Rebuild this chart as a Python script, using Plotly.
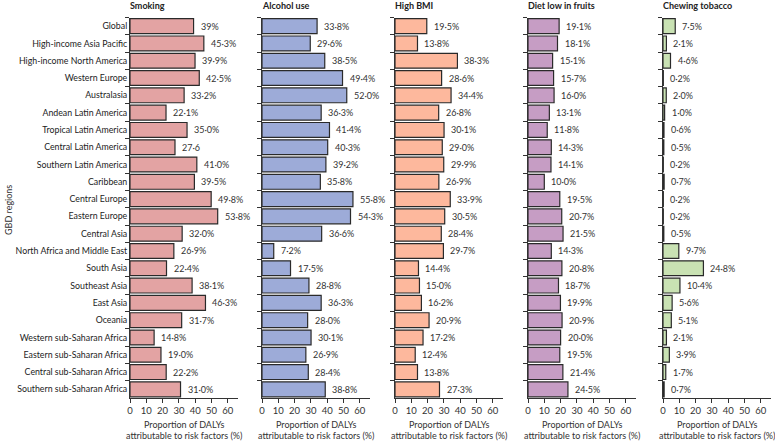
import plotly.graph_objects as go

regions = ["Global", "High-income Asia Pacific", "High-income North America", "Western Europe",
           "Australasia", "Andean Latin America", "Tropical Latin America", "Central Latin America",
           "Southern Latin America", "Caribbean", "Central Europe", "Eastern Europe", "Central Asia",
           "North Africa and Middle East", "South Asia", "Southeast Asia", "East Asia", "Oceania",
           "Western sub-Saharan Africa", "Eastern sub-Saharan Africa", "Central sub-Saharan Africa",
           "Southern sub-Saharan Africa"]

smoking = [39.0, 45.3, 39.9, 42.5, 33.2, 22.1, 35.0, 27.6, 41.0, 39.5, 49.8, 53.8, 32.0, 26.9,
           22.4, 38.1, 46.3, 31.7, 14.8, 19.0, 22.2, 31.0]
alcohol = [33.8, 29.6, 38.5, 49.4, 52.0, 36.3, 41.4, 40.3, 39.2, 35.8, 55.8, 54.3, 36.6, 7.2,
           17.5, 28.8, 36.3, 28.0, 30.1, 26.9, 28.4, 38.8]
high_bmi = [19.5, 13.8, 38.3, 28.6, 34.4, 26.8, 30.1, 29.0, 29.9, 26.9, 33.9, 30.5, 28.4, 29.7,
            14.4, 15.0, 16.2, 20.9, 17.2, 12.4, 13.8, 27.3]
low_fruit = [19.1, 18.1, 15.1, 15.7, 16.0, 13.1, 11.8, 14.3, 14.1, 10.0, 19.5, 20.7, 21.5, 14.3,
             20.8, 18.7, 19.9, 20.9, 20.0, 19.5, 21.4, 24.5]
chewing = [7.5, 2.1, 4.6, 0.2, 2.0, 1.0, 0.6, 0.5, 0.2, 0.7, 0.2, 0.2, 0.5, 9.7,
           24.8, 10.4, 5.6, 5.1, 2.1, 3.9, 1.7, 0.7]

titles = ["Smoking", "Alcohol use", "High BMI", "Diet low in fruits", "Chewing tobacco"]
colors = ["#E3A3A3", "#9DABD8", "#FDB89D", "#C69DC4", "#C9E2B3"]
series = [smoking, alcohol, high_bmi, low_fruit, chewing]
tick_vals = [0, 10, 20, 30, 40, 50, 60]
xtitle_lines = ["Proportion of DALYs", "attributable to risk factors (%)"]


def fmt(v):
    return f"{v:.1f}%".replace(".", "\u00b7")


labels = [[fmt(v) for v in s] for s in series]
labels[0][0] = "39%"
labels[0][7] = "27\u00b76"

W, H = 775, 442
x0_px = [130, 262, 395, 528, 663]
px_per_unit = 1.63
xmax = 66
FONT = "Lato"
y_top_px, y_bot_px = 17.5, 398


def px_x(p):
    return p / W


def px_y(p):
    return 1 - p / H


fig = go.Figure()
for i, (s, c, t) in enumerate(zip(series, colors, titles)):
    ax = "" if i == 0 else str(i + 1)
    fig.add_trace(go.Bar(
        x=s, y=regions, orientation="h",
        marker=dict(color=c, line=dict(color="#2a2a2a", width=1.2)),
        xaxis="x" + ax, yaxis="y" + ax, showlegend=False, hoverinfo="x+y",
    ))
    d0 = px_x(x0_px[i])
    d1 = px_x(x0_px[i] + xmax * px_per_unit)
    fig.layout["xaxis" + ax] = dict(
        domain=[d0, d1], range=[0, xmax], anchor="y" + ax, automargin=False,
        tickvals=tick_vals, ticks="outside", ticklen=4, tickcolor="#333",
        showline=True, linecolor="#333", linewidth=1, showgrid=False, zeroline=False,
        tickfont=dict(family=FONT, size=9.5, color="#333"),
    )
    fig.layout["yaxis" + ax] = dict(
        domain=[px_y(y_bot_px), px_y(y_top_px)], anchor="x" + ax, automargin=False,
        autorange="reversed", type="category",
        tickson="boundaries", ticks="outside", ticklen=4, tickcolor="#333",
        showline=True, linecolor="#333", linewidth=1, showgrid=False,
        showticklabels=(i == 0),
        tickfont=dict(family=FONT, size=8.8, color="#222"),
    )
    for r, lab, v in zip(regions, labels[i], s):
        fig.add_annotation(x=v, y=r, xref="x" + ax, yref="y" + ax, text=lab,
                           showarrow=False, xanchor="left", xshift=5,
                           font=dict(family=FONT, size=9, color="#333"))
    fig.add_annotation(x=d0 - 0.002, y=px_y(5.5), xref="paper", yref="paper", yanchor="middle",
                       xanchor="left", text="<b>" + t + "</b>", showarrow=False,
                       font=dict(family=FONT, size=9, color="#222"))
    xc = (d0 + d1) / 2
    for line, ypx in zip(xtitle_lines, [424, 435.5]):
        fig.add_annotation(x=xc, y=px_y(ypx), xref="paper", yref="paper",
                           xanchor="center", yanchor="middle", text=line, showarrow=False,
                           font=dict(family=FONT, size=9, color="#333"))

fig.add_annotation(x=px_x(8), y=px_y(210), xref="paper", yref="paper", text="GBD regions",
                   textangle=-90, showarrow=False, xanchor="center", yanchor="middle",
                   font=dict(family=FONT, size=9, color="#333"))

fig.update_layout(
    width=W, height=H, bargap=0.14,
    margin=dict(l=0, r=0, t=0, b=0),
    paper_bgcolor="white", plot_bgcolor="white",
    font=dict(family=FONT, size=9, color="#333"),
)
fig.write_html("out.html", config={"displayModeBar": False},
               post_script="document.body.style.margin='0px';document.body.style.overflow='hidden';")
